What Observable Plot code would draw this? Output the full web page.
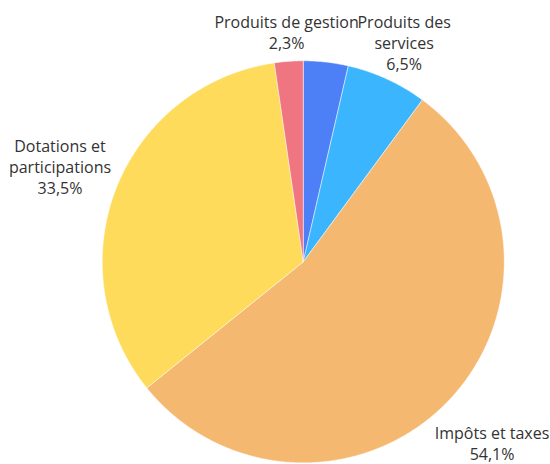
<!DOCTYPE html>
<html>
<head>
<meta charset="utf-8">
<script src="https://cdn.jsdelivr.net/npm/d3@7"></script>
<script src="https://cdn.jsdelivr.net/npm/@observablehq/plot@0.6"></script>
<style>
  html, body { margin: 0; padding: 0; background: #fff; }
  #chart { width: 550px; height: 464px; }
</style>
</head>
<body>
<div id="chart"></div>
<script>
// Data (clockwise from 12 o'clock)
const categories = ["Autres produits", "Produits des services", "Impôts et taxes", "Dotations et participations", "Produits de gestion"];
const labelTexts = ["", "Produits des\nservices", "Impôts et taxes", "Dotations et\nparticipations", "Produits de gestion"];
const shares = [3.6, 6.5, 54.1, 33.5, 2.3];
const showLabel = [false, true, true, true, true];
const colors = ["#4d80f7", "#3bb5fd", "#f4b870", "#fedb5b", "#ef7580"];

const fmt = v => v.toFixed(1).replace(".", ",") + "%";

const rows = categories.map((c, i) => ({name: c, value: shares[i], label: labelTexts[i], show: showLabel[i], color: colors[i]}));
const arcs = d3.pie().sort(null).value(d => d.value)(rows);

// polygons in unit-radius data space (y up)
function slicePoints(a) {
  const pts = [{x: 0, y: 0}];
  const n = Math.max(2, Math.ceil((a.endAngle - a.startAngle) / (Math.PI / 360)));
  for (let k = 0; k <= n; k++) {
    const t = a.startAngle + (a.endAngle - a.startAngle) * k / n;
    pts.push({x: Math.sin(t), y: Math.cos(t)});
  }
  pts.push({x: 0, y: 0});
  return pts;
}

const R = 201, cx = 302.75, cy = 261.3;
const LR = 1.3;        // label radius
const yTopMax = 1.25;  // keep label blocks inside the top of the chart
const lineH = 21 / R;
const labels = arcs.filter(a => a.data.show).map(a => {
  const mid = (a.startAngle + a.endAngle) / 2;
  const text = a.data.label + "\n" + fmt(a.data.value);
  const nLines = text.split("\n").length;
  let x = LR * Math.sin(mid);
  let y = LR * Math.cos(mid);
  const half = nLines * lineH / 2;
  if (y + half > yTopMax) {
    y = yTopMax - half;
    x = y * Math.tan(mid); // slide along the radial ray
  }
  return {x, y, text};
});

const marks = arcs.map(a => Plot.line(slicePoints(a), {
  x: "x", y: "y", fill: a.data.color, stroke: "#ffffff", strokeWidth: 0.8, strokeOpacity: 0.6
}));
marks.push(Plot.text(labels, {
  x: "x", y: "y", text: "text", textAnchor: "middle", lineAnchor: "middle",
  lineHeight: 1.3, fontSize: 16, fill: "#333333", fontFamily: "'Open Sans', 'Noto Sans', sans-serif"
}));

const chart = Plot.plot({
  width: 550,
  height: 464,
  margin: 0,
  x: {domain: [-cx / R, (550 - cx) / R], axis: null},
  y: {domain: [-(464 - cy) / R, cy / R], axis: null},
  style: {background: "#fff", fontFamily: "'Open Sans', 'Noto Sans', sans-serif"},
  marks
});
document.getElementById("chart").appendChild(chart);
</script>
</body>
</html>
